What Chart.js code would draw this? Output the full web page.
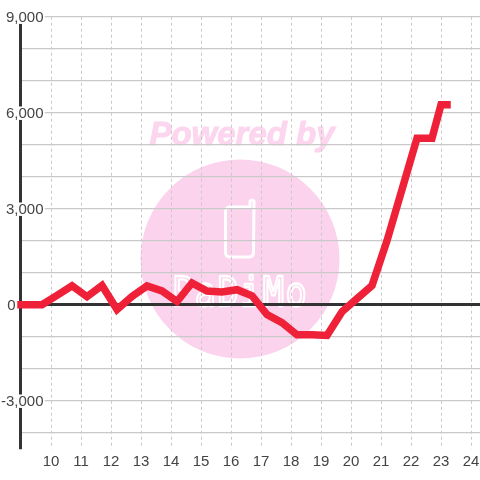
<!DOCTYPE html>
<html><head><meta charset="utf-8">
<style>html,body{margin:0;padding:0;background:#fff}canvas{display:block}</style>
<script src="https://cdn.jsdelivr.net/npm/chart.js@4"></script>
</head><body>
<canvas id="c" width="480" height="480" style="width:480px;height:480px"></canvas>
<script>
const hours = [9,9.7,10.2,10.7,11.2,11.7,12.2,12.7,13.2,13.7,14.2,14.7,15.2,15.7,16.2,16.7,17.2,17.7,18.2,18.7,19.2,19.7,20.2,20.7,21.2,21.7,22.2,22.7,23,23.2];
const values = [0,0,290,590,250,600,-150,260,590,430,100,680,430,400,470,280,-310,-560,-940,-940,-960,-220,190,600,2000,3600,5200,5200,6250,6250];
const xTicks = [10,11,12,13,14,15,16,17,18,19,20,21,22,23,24];
const yTicks = [-4000,-3000,-2000,-1000,0,1000,2000,3000,4000,5000,6000,7000,8000,9000];
const labeledStep = 3000;
const watermarkTop = 'Powered by';
const watermarkBottom = 'PaDiMo';

const watermark = {
  id:'watermark',
  beforeDraw(chart){
    const g = chart.ctx; g.save();
    g.fillStyle='#fbd3ec';
    g.beginPath(); g.arc(240,259,99.5,0,Math.PI*2); g.fill();
    g.fillStyle='#fcd6ee'; g.strokeStyle='#fcd6ee'; g.lineWidth=1;
    g.font='italic bold 33px "Liberation Sans"'; g.textAlign='center'; g.textBaseline='alphabetic';
    g.fillText(watermarkTop,242,145);
    g.strokeText(watermarkTop,242,145);
    g.strokeStyle='#fff'; g.lineWidth=3; g.lineJoin='round'; g.lineCap='round';
    g.beginPath();
    g.moveTo(250,207); g.lineTo(230,207); g.quadraticCurveTo(225.5,207,225.5,212);
    g.lineTo(225.5,252); g.quadraticCurveTo(225.5,257,230,257); g.lineTo(249,257);
    g.quadraticCurveTo(253.5,257,253.5,252); g.lineTo(254,201);
    g.quadraticCurveTo(252,199,250,201); g.lineTo(250,207);
    g.stroke();
    g.save();
    g.translate(172,306); g.scale(0.98,1.15);
    g.font='36px "DejaVu Sans Mono"'; g.textAlign='left';
    g.letterSpacing='1.5px';
    g.lineWidth=2;
    g.strokeText(watermarkBottom,0,0);
    g.restore();
    g.restore();
  }
};

new Chart(document.getElementById('c'),{
  type:'line',
  data:{datasets:[{
    data:hours.map((h,i)=>({x:h,y:values[i]})),
    borderColor:'#ee2138',borderWidth:7.5,borderCapStyle:'square',borderJoinStyle:'miter',
    pointRadius:0,tension:0,clip:false,fill:false
  }]},
  plugins:[watermark],
  options:{
    responsive:false,animation:false,
    layout:{padding:{top:16.7,left:0,right:0,bottom:0}},
    plugins:{legend:{display:false},tooltip:{enabled:false}},
    scales:{
      x:{type:'linear',min:8.983,max:24.3,
        afterBuildTicks(s){s.ticks=xTicks.map(value=>({value}));},
        afterFit(s){s.height=31;s.paddingLeft=0;s.paddingRight=0;},
        grid:{color:'#c9c9c9',lineWidth:1,tickLength:0,drawTicks:false},
        border:{display:false,dash:[3,3]},
        ticks:{padding:4,maxRotation:0,autoSkip:false,
          color:'#444',font:{family:'"Liberation Sans"',size:15},
          callback:v=>String(v)}
      },
      y:{type:'linear',min:-4509,max:9000,
        afterBuildTicks(s){s.ticks=yTicks.map(value=>({value}));},
        afterFit(s){s.width=20.5;s.paddingTop=0;s.paddingBottom=0;s._computeLabelArea=()=>undefined;},
        grid:{tickLength:0,drawTicks:false,
          color:c=>c.tick&&c.tick.value===0?'#333':'#c9c9c9',
          lineWidth:c=>c.tick&&c.tick.value===0?3:1.2},
        border:{display:true,color:'#333',width:3},
        ticks:{padding:-23,autoSkip:false,
          color:'#444',font:{family:'"Liberation Sans"',size:15,lineHeight:'2px'},
          showLabelBackdrop:c=>c.tick.value!==0&&c.tick.value%labeledStep===0,
          backdropColor:'#fff',backdropPadding:{top:3,bottom:6,left:1,right:1},
          callback:v=>{
            if(v===0) return ['','0\u00a0\u00a0\u00a0\u00a0\u00a0\u00a0\u2009'];
            return v%labeledStep===0?['',v.toLocaleString('en-US')]:'';
          }}
      }
    }
  }
});
</script>
</body></html>
